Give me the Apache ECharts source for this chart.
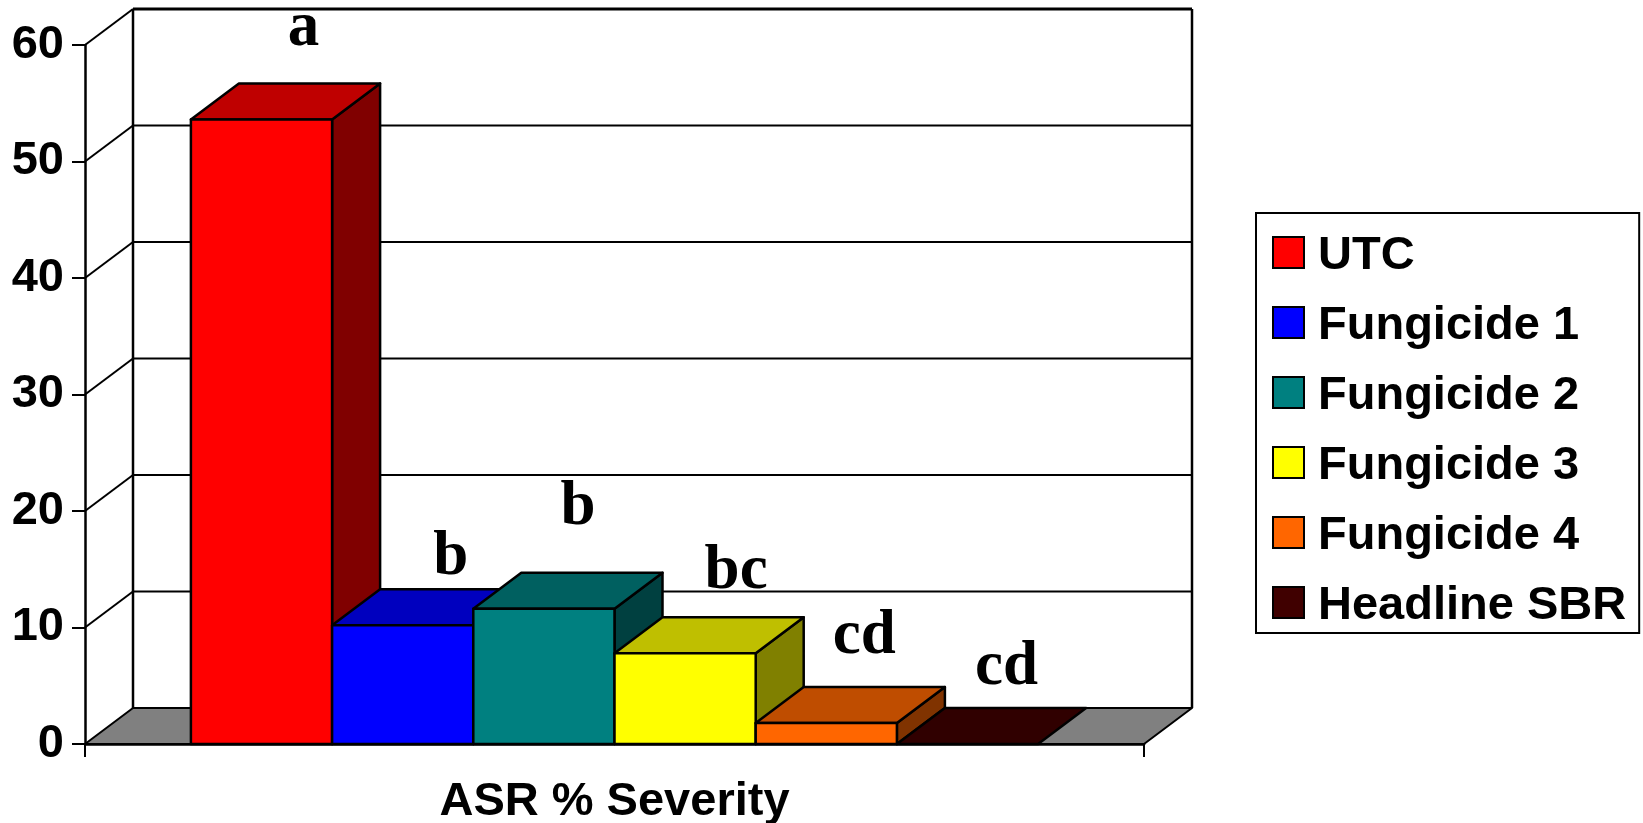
<!DOCTYPE html>
<html>
<head>
<meta charset="utf-8">
<title>ASR % Severity</title>
<script src="https://cdn.jsdelivr.net/npm/echarts@6/dist/echarts.min.js"></script>
<style>
html,body{margin:0;padding:0;background:#fff}
#chart{width:1643px;height:823px}
</style>
</head>
<body>
<div id="chart"></div>
<script>
var categories = ["ASR % Severity"];
var treatments = ["UTC", "Fungicide 1", "Fungicide 2", "Fungicide 3", "Fungicide 4", "Headline SBR"];
var severity = [53.6, 10.2, 11.6, 7.8, 1.8, 0];
var letters = ["a", "b", "b", "bc", "cd", "cd"];
var yTicks = [0, 10, 20, 30, 40, 50, 60];

// colours of each box: front, top, right side
var frontColors = ["#ff0000", "#0000ff", "#008080", "#ffff00", "#ff6600", "#400000"];
var topColors = ["#bf0000", "#0000bf", "#006060", "#bfbf00", "#bf4d00", "#300000"];
var sideColors = ["#800000", "#000080", "#004040", "#808000", "#803300", "#200000"];

// letters were hand placed on the slide: offset from bar centre, height above back edge of the top
var letterShift = [[42, 39], [48, 16], [34, 50], [51, 30], [38, 35], [39, 25]];

var depthX = 48, depthY = 36;
var gapRatio = 1.5; // gap width 150%
var font = "Liberation Sans, Arial, sans-serif";

function poly(points, fill, width) {
    return {
        type: "polygon",
        shape: { points: points },
        style: { fill: fill, stroke: "#000", lineWidth: width || 2.5, lineJoin: "round" }
    };
}

function line(a, b, width) {
    return {
        type: "line",
        shape: { x1: a[0], y1: a[1], x2: b[0], y2: b[1] },
        style: { stroke: "#000", lineWidth: width || 2 }
    };
}

// back wall, side wall and floor
function renderWall(params, api) {
    var v = api.value(1);
    var mid = api.coord([0, v]);
    var band = api.size([1, 0])[0];
    var left = mid[0] - band / 2, right = mid[0] + band / 2;
    var y = mid[1];
    var kids = [];
    if (v === 0) {
        kids.push(poly([[left, y], [left + depthX, y - depthY], [right + depthX, y - depthY], [right, y]], "#808080", 2));
        var top = api.coord([0, yTicks[yTicks.length - 1]])[1];
        kids.push(line([left + depthX, y - depthY], [left + depthX, top - depthY], 2.5));
        kids.push(line([right + depthX, y - depthY], [right + depthX, top - depthY], 2.5));
    } else {
        kids.push(line([left, y], [left + depthX, y - depthY], 2));
        kids.push(line([left + depthX, y - depthY], [right + depthX, y - depthY], v === 60 ? 3 : 2));
    }
    return { type: "group", children: kids };
}

function renderBox(params, api) {
    var i = params.seriesIndex - 1;
    var base = api.coord([0, 0]);
    var top = api.coord([0, api.value(1)]);
    var band = api.size([1, 0])[0];
    var w = band / (treatments.length + gapRatio);
    var x0 = base[0] - band / 2 + w * gapRatio / 2 + w * i;
    var x1 = x0 + w;
    var y0 = base[1], y1 = top[1];
    var kids = [];
    if (y0 > y1) {
        kids.push(poly([[x1, y0], [x1 + depthX, y0 - depthY], [x1 + depthX, y1 - depthY], [x1, y1]], sideColors[i]));
    }
    kids.push(poly([[x0, y1], [x0 + depthX, y1 - depthY], [x1 + depthX, y1 - depthY], [x1, y1]], topColors[i]));
    if (y0 > y1) {
        kids.push(poly([[x0, y0], [x0, y1], [x1, y1], [x1, y0]], frontColors[i]));
    }
    kids.push({
        type: "text",
        style: {
            text: letters[i],
            x: (x0 + x1) / 2 + letterShift[i][0],
            y: y1 - depthY - letterShift[i][1] - 47,
            font: "bold 63px Liberation Serif, Times New Roman, serif",
            fill: "#000",
            textAlign: "center",
            textBaseline: "top"
        }
    });
    return { type: "group", children: kids };
}

var series = [{
    type: "custom",
    name: "walls",
    renderItem: renderWall,
    encode: { x: 0, y: 1 },
    data: yTicks.map(function (t) { return [0, t]; }),
    silent: true
}];

treatments.forEach(function (name, i) {
    series.push({
        type: "custom",
        name: name,
        renderItem: renderBox,
        encode: { x: 0, y: 1 },
        itemStyle: { color: frontColors[i] },
        data: [[0, severity[i]]],
        silent: true
    });
});

var option = {
    animation: false,
    backgroundColor: "#fff",
    grid: { left: 85, top: 45, width: 1059, height: 699, outerBoundsMode: "none" },
    legend: {
        data: treatments,
        orient: "vertical",
        left: 1256,
        top: 213,
        padding: [12, 13, 3, 16],
        itemWidth: 31,
        itemHeight: 31,
        itemGap: 15,
        icon: "rect",
        selectedMode: false,
        borderColor: "#000",
        borderWidth: 2,
        itemStyle: { borderColor: "#000", borderWidth: 2 },
        formatter: "{t|{name}}",
        textStyle: {
            color: "#000",
            rich: {
                t: { color: "#000", fontFamily: font, fontWeight: "bold", fontSize: 47, lineHeight: 47, padding: [8, 0, 0, 9] }
            }
        }
    },
    xAxis: {
        type: "category",
        data: categories,
        axisLine: { lineStyle: { color: "#000", width: 2.5 } },
        axisTick: { show: true, length: 13, lineStyle: { color: "#000", width: 2 } },
        axisLabel: { color: "#000", fontFamily: font, fontWeight: "bold", fontSize: 47, margin: 35 }
    },
    yAxis: {
        type: "value",
        min: 0,
        max: 60,
        interval: 10,
        axisLine: { show: true, lineStyle: { color: "#000", width: 2.5 } },
        axisTick: { show: true, length: 13, lineStyle: { color: "#000", width: 2 } },
        splitLine: { show: false },
        axisLabel: { color: "#000", fontFamily: font, fontWeight: "bold", fontSize: 47, margin: 21, padding: [3, 0, 0, 0] }
    },
    series: series
};

var myChart = echarts.init(document.getElementById("chart"));
myChart.setOption(option);
</script>
</body>
</html>
